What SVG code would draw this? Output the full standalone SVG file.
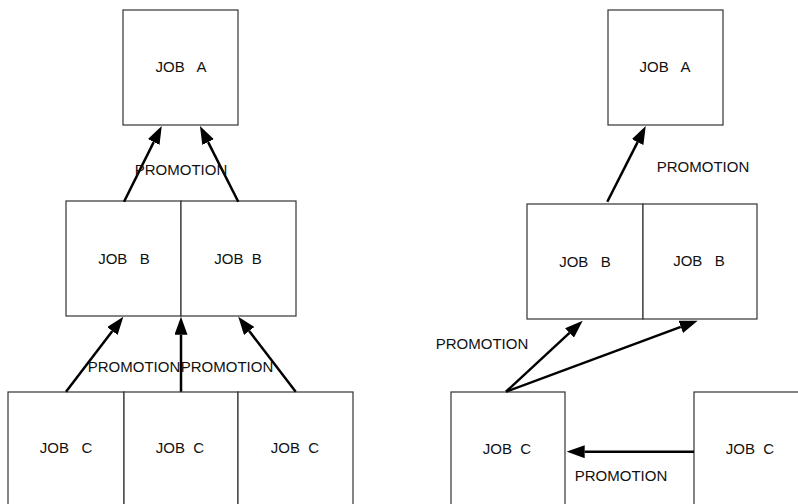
<svg xmlns="http://www.w3.org/2000/svg" width="798" height="504" viewBox="0 0 798 504">
  <style>
    .box { fill: #ffffff; stroke: #333333; stroke-width: 1.2; }
    .lbl { font-family: "Liberation Sans", Arial, sans-serif; font-size: 15px; fill: #111111; text-anchor: middle; white-space: pre; }
    .arr { fill: none; stroke: #000000; stroke-width: 2.5; marker-end: url(#head); }
  </style>
  <defs>
    <marker id="head" viewBox="0 0 18 13" markerWidth="18" markerHeight="13" refX="0" refY="6.5" orient="auto" markerUnits="userSpaceOnUse">
      <path d="M0,0 L18,6.5 L0,13 z" fill="#000000"/>
    </marker>
  </defs>
  <rect width="798" height="504" fill="#ffffff"/>

  <!-- Left hierarchy -->
  <g id="left-job-a"><rect class="box" x="123" y="10" width="115" height="115"/><text class="lbl" x="181" y="72">JOB   A</text></g>
  <g id="left-job-b1"><rect class="box" x="66" y="201" width="115" height="115"/><text class="lbl" x="124" y="264">JOB   B</text></g>
  <g id="left-job-b2"><rect class="box" x="181" y="201" width="115" height="115"/><text class="lbl" x="238" y="264">JOB  B</text></g>
  <g id="left-job-c1"><rect class="box" x="8" y="392" width="116" height="120"/><text class="lbl" x="66" y="453">JOB   C</text></g>
  <g id="left-job-c2"><rect class="box" x="124" y="392" width="114" height="120"/><text class="lbl" x="180" y="453">JOB  C</text></g>
  <g id="left-job-c3"><rect class="box" x="238" y="392" width="115" height="120"/><text class="lbl" x="295" y="453">JOB  C</text></g>

  <!-- Right hierarchy -->
  <g id="right-job-a"><rect class="box" x="608" y="10" width="115" height="115"/><text class="lbl" x="665" y="72">JOB   A</text></g>
  <g id="right-job-b1"><rect class="box" x="527" y="204" width="116" height="115"/><text class="lbl" x="585" y="267">JOB   B</text></g>
  <g id="right-job-b2"><rect class="box" x="643" y="204" width="114" height="115"/><text class="lbl" x="699" y="266">JOB   B</text></g>
  <g id="right-job-c1"><rect class="box" x="451" y="392" width="114" height="120"/><text class="lbl" x="507" y="454">JOB  C</text></g>
  <g id="right-job-c2"><rect class="box" x="694" y="392" width="120" height="120"/><text class="lbl" x="750" y="454">JOB  C</text></g>

  <!-- Promotion connectors -->
  <g id="connectors">
    <path class="arr" d="M124,201.7 L153.7,142.1"/>
    <path class="arr" d="M238.3,201.7 L208.1,142.1"/>
    <path class="arr" d="M66,391.7 L112.4,331"/>
    <path class="arr" d="M181,391.7 L181,334.7"/>
    <path class="arr" d="M295.7,391.7 L249.2,331"/>
    <path class="arr" d="M607.3,201.7 L637.6,142.1"/>
    <path class="arr" d="M506,391.7 L569.5,332.9"/>
    <path class="arr" d="M506,391.7 L680.8,326.9"/>
    <path class="arr" d="M694,451.7 L584.7,451.7"/>
  </g>

  <!-- Connector labels -->
  <g id="labels">
    <text class="lbl" x="181" y="175">PROMOTION</text>
    <text class="lbl" x="134" y="372">PROMOTION</text>
    <text class="lbl" x="227" y="372">PROMOTION</text>
    <text class="lbl" x="703" y="172">PROMOTION</text>
    <text class="lbl" x="482" y="349">PROMOTION</text>
    <text class="lbl" x="621" y="481">PROMOTION</text>
  </g>
</svg>
